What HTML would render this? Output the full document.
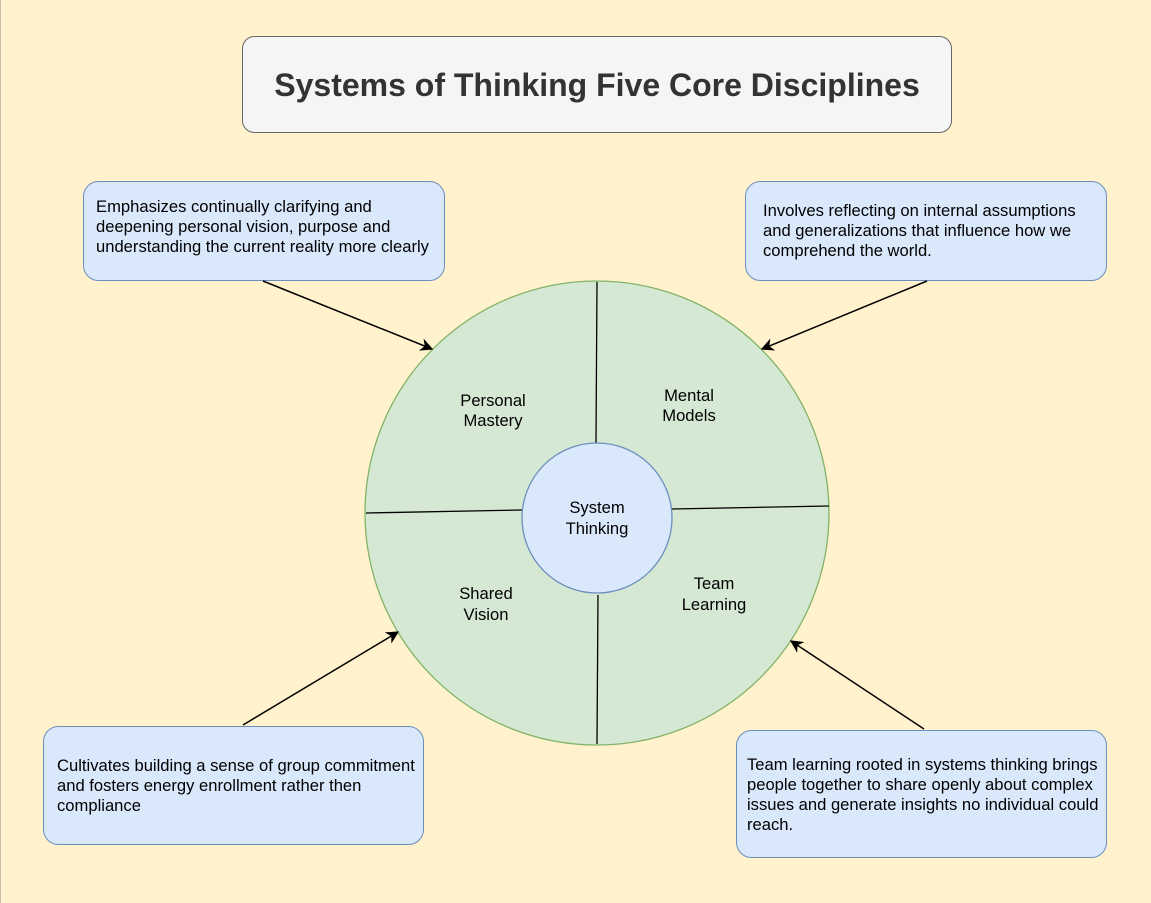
<!DOCTYPE html>
<html><head><meta charset="utf-8"><style>
html,body{margin:0;padding:0;background:#fff2cc;}
svg{display:block;}
text{font-family:"Liberation Sans",Arial,sans-serif;fill:#000;}
</style></head><body>
<svg width="1151" height="903" viewBox="0 0 1151 903" xmlns="http://www.w3.org/2000/svg">
<defs><marker id="a" viewBox="0 0 10 10" refX="9" refY="5" markerWidth="13" markerHeight="13" markerUnits="userSpaceOnUse" orient="auto"><path d="M0,0 L10,5 L0,10 L3,5 z" fill="#000"/></marker></defs>
<rect x="0" y="0" width="1151" height="903" fill="#fff2cc"/>
<line x1="0.5" y1="0" x2="0.5" y2="903" stroke="#c8c0a8"/>
<rect x="242.5" y="36.5" width="709" height="96" rx="12" fill="#f5f5f5" stroke="#666"/>
<text x="597" y="96" text-anchor="middle" font-size="32" font-weight="bold" style="fill:#333">Systems of Thinking Five Core Disciplines</text>

<g fill="#dae8fc" stroke="#6c8ebf">
<rect x="83.5" y="181.5" width="361" height="99" rx="15"/>
<rect x="745.5" y="181.5" width="361" height="99" rx="15"/>
<rect x="43.5" y="726.5" width="380" height="118" rx="15"/>
<rect x="736.5" y="730.5" width="370" height="127" rx="15"/>
</g>
<g font-size="16.6">
<text x="96" y="212">Emphasizes continually clarifying and</text>
<text x="96" y="232">deepening personal vision, purpose and</text>
<text x="96" y="252">understanding the current reality more clearly</text>
<text x="763" y="216">Involves reflecting on internal assumptions</text>
<text x="763" y="236">and generalizations that influence how we</text>
<text x="763" y="256">comprehend the world.</text>
<text x="57" y="771">Cultivates building a sense of group commitment</text>
<text x="57" y="791">and fosters energy enrollment rather then</text>
<text x="57" y="811">compliance</text>
<text x="747" y="770">Team learning rooted in systems thinking brings</text>
<text x="747" y="790">people together to share openly about complex</text>
<text x="747" y="810">issues and generate insights no individual could</text>
<text x="747" y="830">reach.</text>
</g>

<circle cx="597" cy="513" r="232" fill="#d5e8d4" stroke="#82b366" stroke-width="1.3"/>
<g stroke="#000" stroke-width="1.3">
<line x1="597" y1="282" x2="596" y2="443"/>
<line x1="366" y1="513" x2="522" y2="510"/>
<line x1="672" y1="509" x2="829" y2="506"/>
<line x1="598" y1="595" x2="597" y2="744"/>
</g>
<circle cx="597" cy="518" r="75" fill="#dae8fc" stroke="#6c8ebf" stroke-width="1.3"/>
<g font-size="16.6" text-anchor="middle">
<text x="493" y="406">Personal</text><text x="493" y="426">Mastery</text>
<text x="689" y="401">Mental</text><text x="689" y="421">Models</text>
<text x="597" y="513">System</text><text x="597" y="534">Thinking</text>
<text x="486" y="599">Shared</text><text x="486" y="620">Vision</text>
<text x="714" y="589">Team</text><text x="714" y="610">Learning</text>
</g>

<g stroke="#000" stroke-width="1.5" marker-end="url(#a)">
<line x1="263" y1="281" x2="432" y2="349"/>
<line x1="927" y1="281" x2="762" y2="349"/>
<line x1="243" y1="725" x2="398" y2="632"/>
<line x1="924" y1="729" x2="791" y2="641"/>
</g>
</svg>
</body></html>
